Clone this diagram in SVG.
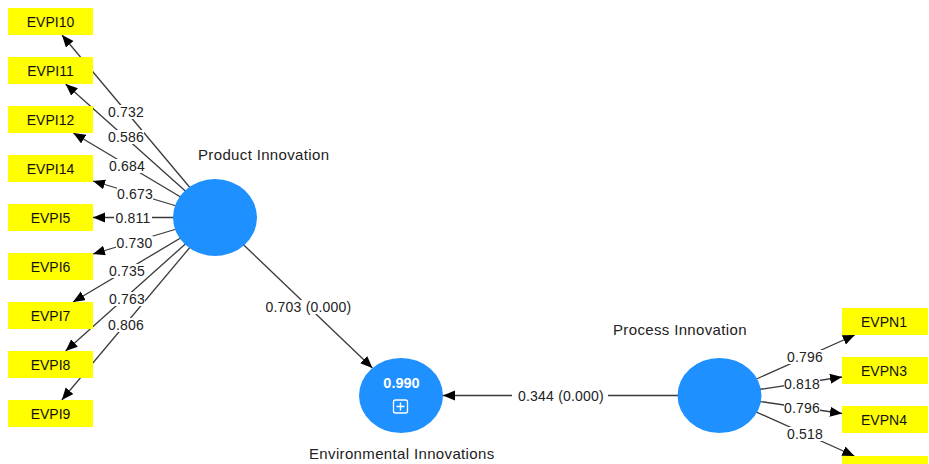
<svg xmlns="http://www.w3.org/2000/svg" width="929" height="464" viewBox="0 0 929 464">
<style>
.ind{fill:#ffff00}
.indt{font-family:"Liberation Sans",Arial,sans-serif;font-size:14px;fill:#111;text-anchor:middle}
.lv{fill:#1e90ff}
.title{font-family:"Liberation Sans",Arial,sans-serif;font-size:15px;letter-spacing:0.35px;fill:#222}
.edge{stroke:#3a3a3a;stroke-width:1.3;fill:none;marker-end:url(#ah)}
.lbg{fill:#ffffff}
.lbl{font-family:"Liberation Sans",Arial,sans-serif;font-size:14px;letter-spacing:0.2px;fill:#222;text-anchor:middle}
</style>
<defs>
<marker id="ah" markerUnits="userSpaceOnUse" markerWidth="13" markerHeight="11" refX="12" refY="5" orient="auto">
<path d="M0,0 L12,5 L0,10 z" fill="#000"/>
</marker>
</defs>
<rect width="929" height="464" fill="#ffffff"/>
<g id="connectors">
<line class="edge" x1="215" y1="217.5" x2="62" y2="35"/>
<line class="edge" x1="215" y1="217.5" x2="65.6" y2="84"/>
<line class="edge" x1="215" y1="217.5" x2="73.3" y2="133"/>
<line class="edge" x1="215" y1="217.5" x2="93" y2="181"/>
<line class="edge" x1="215" y1="217.5" x2="93" y2="217.5"/>
<line class="edge" x1="215" y1="217.5" x2="93" y2="254"/>
<line class="edge" x1="215" y1="217.5" x2="73" y2="302"/>
<line class="edge" x1="215" y1="217.5" x2="65.6" y2="351"/>
<line class="edge" x1="215" y1="217.5" x2="61.8" y2="400"/>
<line class="edge" x1="719.5" y1="395.5" x2="854.8" y2="335"/>
<line class="edge" x1="719.5" y1="395.5" x2="842" y2="377"/>
<line class="edge" x1="719.5" y1="395.5" x2="842" y2="413.5"/>
<line class="edge" x1="719.5" y1="395.5" x2="854.4" y2="456"/>
<line class="edge" x1="215" y1="217.5" x2="372.4" y2="368"/>
<line class="edge" x1="719.5" y1="395.5" x2="443" y2="395.5"/>
<g>
<rect class="lbg" x="108" y="105" width="36" height="14"/><text class="lbl" x="126" y="117">0.732</text>
<rect class="lbg" x="108" y="130" width="36" height="14"/><text class="lbl" x="126" y="142">0.586</text>
<rect class="lbg" x="109" y="159" width="36" height="14"/><text class="lbl" x="127" y="171">0.684</text>
<rect class="lbg" x="117" y="187" width="36" height="14"/><text class="lbl" x="135" y="199">0.673</text>
<rect class="lbg" x="114" y="211" width="38" height="14"/><text class="lbl" x="133" y="223">0.811</text>
<rect class="lbg" x="116" y="236" width="37" height="14"/><text class="lbl" x="134.5" y="248">0.730</text>
<rect class="lbg" x="109" y="264" width="36" height="14"/><text class="lbl" x="127" y="276">0.735</text>
<rect class="lbg" x="109" y="292" width="36" height="14"/><text class="lbl" x="127" y="304">0.763</text>
<rect class="lbg" x="108" y="318" width="36" height="14"/><text class="lbl" x="126" y="330">0.806</text>
<rect class="lbg" x="787" y="350" width="36" height="14"/><text class="lbl" x="805" y="362">0.796</text>
<rect class="lbg" x="784" y="377" width="36" height="14"/><text class="lbl" x="802" y="389">0.818</text>
<rect class="lbg" x="784" y="401" width="36" height="14"/><text class="lbl" x="802" y="413">0.796</text>
<rect class="lbg" x="787" y="427" width="36" height="14"/><text class="lbl" x="805" y="439">0.518</text>
<rect class="lbg" x="262" y="300" width="93" height="14"/><text class="lbl" x="308.5" y="312">0.703 (0.000)</text>
<rect class="lbg" x="512" y="389" width="96" height="14"/><text class="lbl" x="561" y="401">0.344 (0.000)</text>
</g>
</g>
<g id="EVPI10"><rect class="ind" x="8" y="8" width="85" height="27"/><text class="indt" x="50.5" y="26.5">EVPI10</text></g>
<g id="EVPI11"><rect class="ind" x="8" y="57" width="85" height="27"/><text class="indt" x="50.5" y="75.5">EVPI11</text></g>
<g id="EVPI12"><rect class="ind" x="8" y="106" width="85" height="27"/><text class="indt" x="50.5" y="124.5">EVPI12</text></g>
<g id="EVPI14"><rect class="ind" x="8" y="155" width="85" height="27"/><text class="indt" x="50.5" y="173.5">EVPI14</text></g>
<g id="EVPI5"><rect class="ind" x="8" y="204" width="85" height="27"/><text class="indt" x="50.5" y="222.5">EVPI5</text></g>
<g id="EVPI6"><rect class="ind" x="8" y="253" width="85" height="27"/><text class="indt" x="50.5" y="271.5">EVPI6</text></g>
<g id="EVPI7"><rect class="ind" x="8" y="302" width="85" height="27"/><text class="indt" x="50.5" y="320.5">EVPI7</text></g>
<g id="EVPI8"><rect class="ind" x="8" y="351" width="85" height="27"/><text class="indt" x="50.5" y="369.5">EVPI8</text></g>
<g id="EVPI9"><rect class="ind" x="8" y="400" width="85" height="27"/><text class="indt" x="50.5" y="418.5">EVPI9</text></g>
<g id="EVPN1"><rect class="ind" x="842" y="308" width="86" height="27"/><text class="indt" x="884" y="326.5">EVPN1</text></g>
<g id="EVPN3"><rect class="ind" x="842" y="357" width="86" height="27"/><text class="indt" x="884" y="375.5">EVPN3</text></g>
<g id="EVPN4"><rect class="ind" x="842" y="406" width="86" height="27"/><text class="indt" x="884" y="424.5">EVPN4</text></g>
<g id="EVPN5"><rect class="ind" x="842" y="456" width="86" height="27"/></g>
<g id="product-innovation">
<ellipse class="lv" cx="215" cy="217.5" rx="42" ry="38.5"/>
<text class="title" x="198" y="160">Product Innovation</text>
</g>
<g id="process-innovation">
<ellipse class="lv" cx="719.5" cy="395.5" rx="42" ry="37.5"/>
<text class="title" x="613" y="335">Process Innovation</text>
</g>
<g id="environmental-innovations">
<ellipse class="lv" cx="401" cy="395.5" rx="42" ry="37.5"/>
<text x="401.5" y="388" font-family="'Liberation Sans',Arial,sans-serif" font-size="14.5" font-weight="bold" fill="#ffffff" text-anchor="middle">0.990</text>
<rect x="393.5" y="400" width="14" height="13" rx="2" fill="none" stroke="#ffffff" stroke-width="1.3"/>
<path d="M400.5,402.5 V410.5 M396.5,406.5 H404.5" stroke="#ffffff" stroke-width="1.4"/>
<text class="title" x="309" y="459">Environmental Innovations</text>
</g>
</svg>
